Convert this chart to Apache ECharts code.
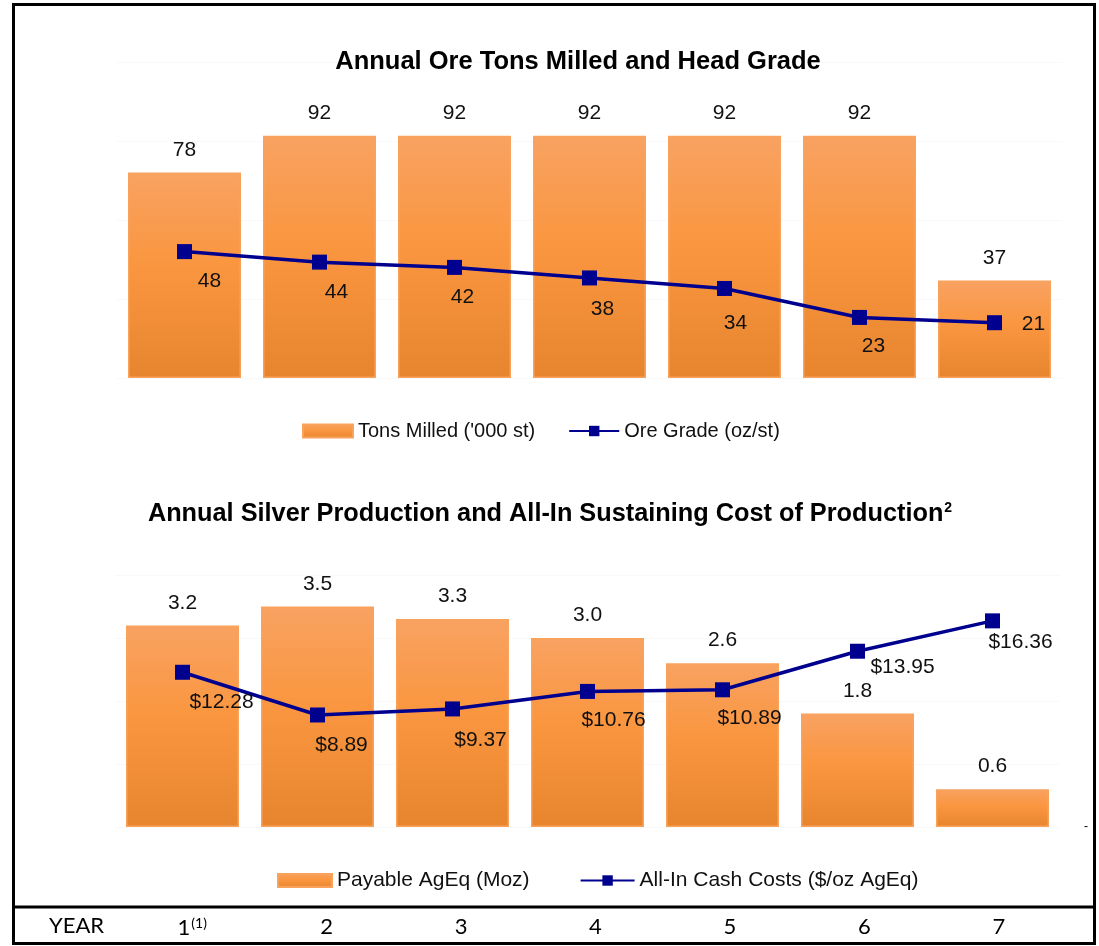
<!DOCTYPE html>
<html lang="en">
<head>
  <meta charset="UTF-8">
  <title>Annual Ore Tons Milled and Silver Production</title>
  <script src="https://cdn.jsdelivr.net/npm/echarts@6/dist/echarts.min.js"></script>
  <style>
    html, body { margin: 0; padding: 0; background: #fff; }
    #main { width: 1099px; height: 946px; }
  </style>
</head>
<body>
  <div id="main"></div>
  <script>
    // data
    var years = ['1', '2', '3', '4', '5', '6', '7'];
    var tonsMilled = [78, 92, 92, 92, 92, 92, 37];
    var oreGrade = [48, 44, 42, 38, 34, 23, 21];
    var payableAgEq = [3.2, 3.5, 3.3, 3.0, 2.6, 1.8, 0.6];
    var cashCosts = [12.28, 8.89, 9.37, 10.76, 10.89, 13.95, 16.36];

    // where the line labels sit relative to their point (dx, dy)
    var gradeLabelShift = [[25, 30], [17, 30], [8, 30], [13, 31], [11, 35], [14, 29], [39, 2]];
    var costLabelShift = [[39, 30], [24, 30], [28, 31], [26, 29], [27, 28], [45, 16], [28, 21]];

    var font = "'Liberation Sans', Arial, sans-serif";
    var navy = '#00008F';

    var barColor = new echarts.graphic.LinearGradient(0, 0, 0, 1, [
      { offset: 0, color: '#F8A262' },
      { offset: 0.45, color: '#FA963F' },
      { offset: 1, color: '#E7852F' }
    ]);

    function lineData(values, shifts, fmt) {
      return values.map(function (v, i) {
        return {
          value: v,
          label: {
            show: true,
            position: 'inside',
            offset: shifts[i],
            formatter: fmt(v)
          }
        };
      });
    }

    var hiddenCat = {
      type: 'category',
      data: years,
      axisLine: { show: false },
      axisTick: { show: false },
      axisLabel: { show: false }
    };

    var myChart = echarts.init(document.getElementById('main'));

    var option = {
      animation: false,
      textStyle: { fontFamily: font },
      title: [{
        text: 'Annual Ore Tons Milled and Head Grade',
        left: 573,
        textAlign: 'center',
        top: 44,
        textStyle: { fontSize: 25.5, fontWeight: 'bold', color: '#000', fontFamily: font }
      }, {
        text: '{t|Annual Silver Production and All-In Sustaining Cost of Production}{s|2}',
        left: 545,
        textAlign: 'center',
        top: 496,
        textStyle: {
          rich: {
            t: { fontSize: 25.3, fontWeight: 'bold', color: '#000', fontFamily: font },
            s: { fontSize: 14, fontWeight: 'bold', color: '#000', fontFamily: font, verticalAlign: 'top', padding: [0, 0, 12, 1] }
          }
        }
      }],
      legend: [{
        data: [{ name: "Tons Milled ('000 st)", icon: 'rect' }, 'Ore Grade (oz/st)'],
        left: 302,
        top: 421,
        padding: 0,
        itemWidth: 50,
        itemHeight: 13,
        itemGap: 33,
        textStyle: { fontSize: 20, color: '#111', fontFamily: font }
      }, {
        data: [{ name: 'Payable AgEq (Moz)', icon: 'rect' }, 'All-In Cash Costs ($/oz AgEq)'],
        left: 277,
        top: 870,
        padding: 0,
        itemWidth: 54,
        itemHeight: 13,
        itemGap: 50,
        textStyle: { fontSize: 21, color: '#111', fontFamily: font }
      }],
      grid: [
        { left: 117, width: 945, top: 62, height: 316 },
        { left: 115, width: 945, top: 575, height: 252 },
        { left: 125, width: 941, top: 905, height: 1 }
      ],
      xAxis: [
        Object.assign({ gridIndex: 0 }, hiddenCat),
        Object.assign({ gridIndex: 1 }, hiddenCat),
        {
          gridIndex: 2,
          type: 'category',
          data: years,
          axisLine: { show: false },
          axisTick: { show: false },
          axisLabel: {
            margin: 10,
            fontSize: 22,
            color: '#000',
            fontFamily: "Lato, 'Open Sans', sans-serif",
            formatter: function (v, i) { return i === 0 ? v + '{sup|(1)}' : v; },
            rich: {
              sup: { fontSize: 14, color: '#000', fontFamily: "Lato, sans-serif", verticalAlign: 'top', padding: [0, 0, 10, 1] }
            }
          }
        }
      ],
      yAxis: [
        {
          gridIndex: 0, type: 'value', min: 0, max: 120, interval: 30,
          axisLabel: { show: false }, axisLine: { show: false }, axisTick: { show: false },
          splitLine: { lineStyle: { color: '#F9F9F9' } }
        },
        {
          gridIndex: 1, type: 'value', min: 0, max: 4, interval: 1,
          axisLabel: { show: false }, axisLine: { show: false }, axisTick: { show: false },
          splitLine: { lineStyle: { color: '#F9F9F9' } }
        },
        {
          gridIndex: 1, type: 'value', min: 0, max: 20, interval: 5, position: 'right',
          axisLine: { show: false }, axisTick: { show: false }, splitLine: { show: false },
          axisLabel: {
            margin: 24, fontSize: 12, color: '#000',
            formatter: function (v) { return v === 0 ? '-' : ''; }
          }
        },
        {
          gridIndex: 2, type: 'value', show: false
        }
      ],
      series: [{
        name: "Tons Milled ('000 st)",
        type: 'bar',
        xAxisIndex: 0, yAxisIndex: 0,
        barWidth: 113,
        data: tonsMilled,
        itemStyle: { color: barColor, borderColor: '#F9A25C', borderWidth: 1.5 },
        label: { show: true, position: 'top', distance: 12, fontSize: 21, color: '#111' }
      }, {
        name: 'Ore Grade (oz/st)',
        type: 'line',
        xAxisIndex: 0, yAxisIndex: 0,
        symbol: 'rect', symbolSize: 15,
        z: 5,
        lineStyle: { color: navy, width: 3.5 },
        itemStyle: { color: navy },
        label: { fontSize: 21, color: '#111' },
        data: lineData(oreGrade, gradeLabelShift, function (v) { return String(v); })
      }, {
        name: 'Payable AgEq (Moz)',
        type: 'bar',
        xAxisIndex: 1, yAxisIndex: 1,
        barWidth: 113,
        data: payableAgEq,
        itemStyle: { color: barColor, borderColor: '#F9A25C', borderWidth: 1.5 },
        label: {
          show: true, position: 'top', distance: 12, fontSize: 21, color: '#111',
          formatter: function (p) { return p.value.toFixed(1); }
        }
      }, {
        name: 'All-In Cash Costs ($/oz AgEq)',
        type: 'line',
        xAxisIndex: 1, yAxisIndex: 2,
        symbol: 'rect', symbolSize: 15,
        z: 5,
        lineStyle: { color: navy, width: 3.5 },
        itemStyle: { color: navy },
        label: { fontSize: 21, color: '#111' },
        data: lineData(cashCosts, costLabelShift, function (v) { return '$' + v.toFixed(2); })
      }],
      graphic: [{
        type: 'rect',
        shape: { x: 13.5, y: 4.5, width: 1081, height: 939 },
        style: { fill: null, stroke: '#000', lineWidth: 3 }
      }, {
        type: 'line',
        shape: { x1: 13, y1: 907, x2: 1095, y2: 907 },
        style: { stroke: '#000', lineWidth: 3 }
      }, {
        type: 'text',
        left: 49,
        top: 915,
        style: { text: 'YEAR', fontSize: 22, fill: '#000', fontFamily: "Lato, 'Open Sans', sans-serif" }
      }]
    };

    myChart.setOption(option);
  </script>
</body>
</html>
